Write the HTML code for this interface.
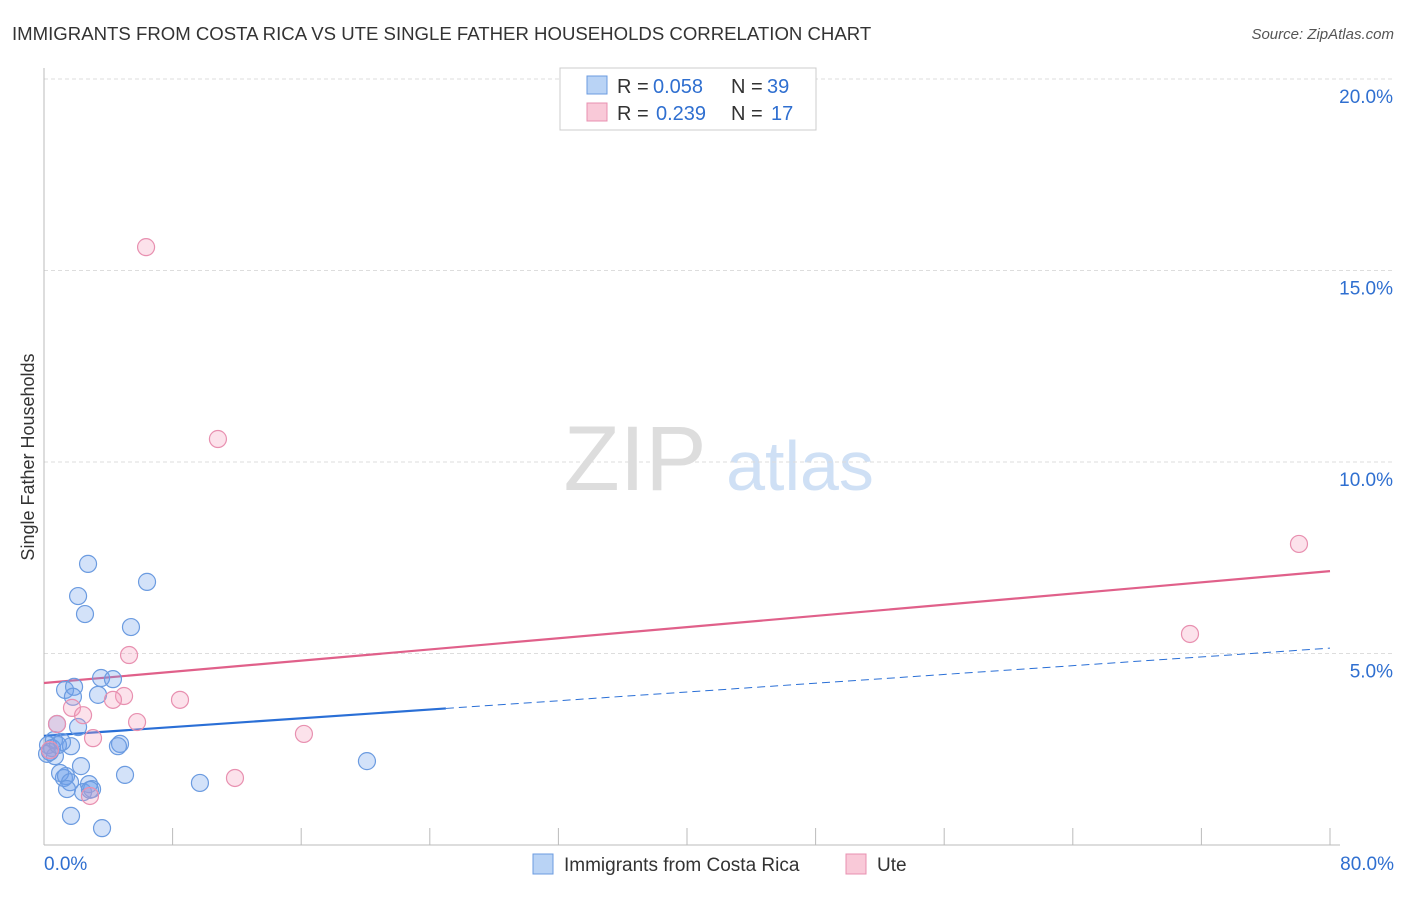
<!DOCTYPE html>
<html><head><meta charset="utf-8"><style>
body{margin:0;background:#fff;font-family:"Liberation Sans",sans-serif;}
svg text{font-family:"Liberation Sans",sans-serif;}
</style></head><body>
<svg id="chart" width="1406" height="892" viewBox="0 0 1406 892">
<text x="12" y="40" font-size="18.6" fill="#333">IMMIGRANTS FROM COSTA RICA VS UTE SINGLE FATHER HOUSEHOLDS CORRELATION CHART</text>
<text x="1394" y="39" font-size="15" fill="#555" text-anchor="end" font-style="italic">Source: ZipAtlas.com</text>
<text x="34" y="457" font-size="18" fill="#333" text-anchor="middle" transform="rotate(-90 34 457)">Single Father Households</text>
<g><text x="635" y="490" font-size="92" fill="#ddd" text-anchor="middle" font-family="Liberation Serif,serif">ZIP</text><text x="800" y="490" font-size="70" fill="#cfe0f5" text-anchor="middle">atlas</text></g>
<g id="grid"></g><g id="axes"></g><g id="trends"></g><g id="points"></g>
<g>
<rect x="560" y="68" width="256" height="62" fill="#fff" stroke="#ccc"/>
<rect x="587" y="76" width="20" height="18" fill="#b9d3f5" stroke="#6b9be0"/>
<text x="617" y="93" font-size="20" fill="#333">R =</text><text x="653" y="93" font-size="20" fill="#2f6fd0">0.058</text>
<text x="731" y="93" font-size="20" fill="#333">N =</text><text x="767" y="93" font-size="20" fill="#2f6fd0">39</text>
<rect x="587" y="103" width="20" height="18" fill="#f9c9d8" stroke="#e890b0"/>
<text x="617" y="120" font-size="20" fill="#333">R =</text><text x="656" y="120" font-size="20" fill="#2f6fd0">0.239</text>
<text x="731" y="120" font-size="20" fill="#333">N =</text><text x="771" y="120" font-size="20" fill="#2f6fd0">17</text>
</g>
<g>
<rect x="533" y="854" width="20" height="20" fill="#b9d3f5" stroke="#6b9be0"/>
<text x="564" y="871" font-size="19" fill="#333">Immigrants from Costa Rica</text>
<rect x="846" y="854" width="20" height="20" fill="#f9c9d8" stroke="#e890b0"/>
<text x="877" y="871" font-size="19" fill="#333">Ute</text>
</g>
</svg>
<script>
const yTicks=[5,10,15,20];
const yTickLabels=["5.0%","10.0%","15.0%","20.0%"];
const xTickLabels=["0.0%","80.0%"];
const blueX=[2.74,6.41,2.12,2.55,5.41,3.55,4.29,1.31,1.87,1.80,3.36,2.12,0.81,4.73,4.60,0.25,0.50,0.68,0.19,1.68,1.24,1.00,1.37,1.62,2.30,1.43,2.43,2.80,2.99,5.04,9.70,20.09,1.68,3.61,0.62,0.37,0.87,2.86,1.12];
const blueY=[7.34,6.87,6.50,6.03,5.69,4.36,4.33,4.05,4.13,3.87,3.92,3.08,3.16,2.64,2.58,2.61,2.53,2.32,2.38,2.58,1.75,1.88,1.80,1.64,2.06,1.46,1.38,1.59,1.46,1.83,1.62,2.19,0.76,0.44,2.74,2.43,2.61,1.44,2.69];
const pinkX=[6.35,10.82,78.07,71.29,5.29,1.74,4.98,4.29,8.46,2.43,5.79,0.81,16.17,3.05,11.88,2.86,0.37];
const pinkY=[15.61,10.60,7.86,5.51,4.96,3.58,3.89,3.79,3.79,3.39,3.21,3.16,2.90,2.79,1.75,1.28,2.48];
const blueTrend=[2.85,5.14];
const pinkTrend=[4.23,7.15];
const blueSolidEnd=25;
const NS="http://www.w3.org/2000/svg";
const X=v=>44+v/80*1286;
const Y=v=>845-v*38.3;
function mk(tag,attrs,parent){const e=document.createElementNS(NS,tag);for(const k in attrs)e.setAttribute(k,attrs[k]);document.getElementById(parent).appendChild(e);return e;}
yTicks.forEach((t,i)=>{
 const l=mk('line',{x1:44,x2:1393,y1:Y(t),y2:Y(t),stroke:'#ddd','stroke-dasharray':'4,3'},'grid');
 
 
 const tx=mk('text',{x:1393,y:Y(t)+24,'font-size':19,fill:'#2f6fd0','text-anchor':'end'},'grid');
 tx.textContent=yTickLabels[i];
 
 
});
let a=mk('line',{x1:44,x2:44,y1:68,y2:845,stroke:'#bbb'},'axes');

a=mk('line',{x1:44,x2:1340,y1:845,y2:845,stroke:'#bbb'},'axes');

for(let i=1;i<=10;i++){const t=mk('line',{x1:X(i*8),x2:X(i*8),y1:828,y2:845,stroke:'#bbb'},'axes');
 }
[[0,'start',44],[80,'end',1394]].forEach((d,i)=>{const t=mk('text',{x:d[2],y:870,'font-size':19,fill:'#2f6fd0','text-anchor':d[1]},'axes');t.textContent=xTickLabels[i];
 });
function pts(xs,ys,fill,stroke,name){xs.forEach((x,i)=>{const c=mk('circle',{cx:X(x),cy:Y(ys[i]),r:8.5,fill:fill,stroke:stroke,'stroke-width':1.2},'points');
 
 });}
pts(blueX,blueY,'rgba(110,160,235,0.3)','#6b9be0','costa-rica-point');
pts(pinkX,pinkY,'rgba(245,160,190,0.3)','#e890b0','ute-point');
const lin=(tr,x)=>tr[0]+(tr[1]-tr[0])*x/80;
let t=mk('line',{x1:X(0),y1:Y(lin(pinkTrend,0)),x2:X(80),y2:Y(lin(pinkTrend,80)),stroke:'#e0608a','stroke-width':2.2},'trends');

t=mk('line',{x1:X(0),y1:Y(lin(blueTrend,0)),x2:X(blueSolidEnd),y2:Y(lin(blueTrend,blueSolidEnd)),stroke:'#2a6fd6','stroke-width':2.2},'trends');

t=mk('line',{x1:X(blueSolidEnd),y1:Y(lin(blueTrend,blueSolidEnd)),x2:X(80),y2:Y(lin(blueTrend,80)),stroke:'#2a6fd6','stroke-width':1,'stroke-dasharray':'8,5'},'trends');

</script>
</body></html>
